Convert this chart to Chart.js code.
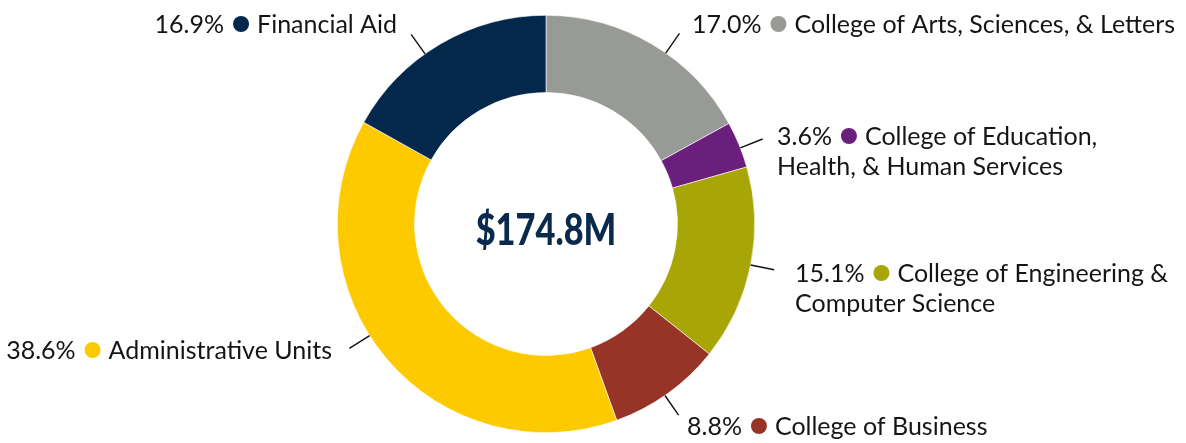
<!DOCTYPE html>
<html>
<head>
<meta charset="utf-8">
<title>Budget allocation</title>
<script src="https://cdn.jsdelivr.net/npm/chart.js@4.4.1/dist/chart.umd.min.js"></script>
<style>
  html, body { margin: 0; padding: 0; background: #ffffff; }
  #wrap { width: 1186px; height: 443px; position: relative; }
</style>
</head>
<body>
<div id="wrap"><canvas id="chart"></canvas></div>
<script>
// Units in clockwise order starting at 12 o'clock
const categories = [
  'College of Arts, Sciences, & Letters',
  'College of Education, Health, & Human Services',
  'College of Engineering & Computer Science',
  'College of Business',
  'Administrative Units',
  'Financial Aid'
];
// Share of the total budget, percent
const shares = [17.0, 3.6, 15.1, 8.8, 38.6, 16.9];
// Text printed in each callout (wrapped lines)
const labelLines = [
  ['College of Arts, Sciences, & Letters'],
  ['College of Education,', 'Health, & Human Services'],
  ['College of Engineering &', 'Computer Science'],
  ['College of Business'],
  ['Administrative Units'],
  ['Financial Aid']
];
const totalLabel = '$174.8M';

const sliceColors = ['#989b95', '#6b1f7c', '#a8a507', '#983427', '#fdca00', '#03284b'];

// Callout placement: text anchor (baseline of first line), alignment,
// and a small angular nudge for where the leader line leaves the ring.
const calloutLayout = [
  { x: 692, y: 33,  align: 'left',  nudge: 4.4 },
  { x: 777, y: 145, align: 'left',  nudge: 0.9 },
  { x: 795, y: 282, align: 'left',  nudge: 0 },
  { x: 687, y: 435, align: 'left',  nudge: 0.9 },
  { x: 332, y: 359, align: 'right', nudge: 8 },
  { x: 397, y: 33,  align: 'right', nudge: -5 }
];

const LABEL_FONT = '25px Lato, "Open Sans", sans-serif';
const TEXT_COLOR = '#151515';

const calloutPlugin = {
  id: 'callouts',
  afterDraw(chart) {
    const ctx = chart.ctx;
    const meta = chart.getDatasetMeta(0);
    ctx.save();

    meta.data.forEach((arc, i) => {
      const lay = calloutLayout[i];
      // leader line leaving the outer edge of the slice
      const mid = (arc.startAngle + arc.endAngle) / 2 + lay.nudge * Math.PI / 180;
      const r0 = arc.outerRadius;
      const r1 = arc.outerRadius + 24;
      ctx.beginPath();
      ctx.moveTo(arc.x + Math.cos(mid) * r0, arc.y + Math.sin(mid) * r0);
      ctx.lineTo(arc.x + Math.cos(mid) * r1, arc.y + Math.sin(mid) * r1);
      ctx.strokeStyle = '#111111';
      ctx.lineWidth = 1.4;
      ctx.stroke();

      // "NN.N%  ●  Name" line, followed by any continuation lines
      ctx.font = LABEL_FONT;
      ctx.fillStyle = TEXT_COLOR;
      ctx.textBaseline = 'alphabetic';
      ctx.textAlign = 'left';
      const pct = shares[i].toFixed(1) + '%';
      const lines = labelLines[i];
      const pctW = ctx.measureText(pct).width;
      const nameW = ctx.measureText(lines[0]).width;
      const dotR = 8, gapA = 9, gapB = 8;
      const firstW = pctW + gapA + dotR * 2 + gapB + nameW;
      const x0 = lay.align === 'right' ? lay.x - firstW : lay.x;

      ctx.fillText(pct, x0, lay.y);
      const dotX = x0 + pctW + gapA + dotR;
      ctx.beginPath();
      ctx.arc(dotX, lay.y - 9, dotR, 0, Math.PI * 2);
      ctx.fillStyle = sliceColors[i];
      ctx.fill();
      ctx.fillStyle = TEXT_COLOR;
      ctx.fillText(lines[0], dotX + dotR + gapB, lay.y);
      for (let k = 1; k < lines.length; k++) {
        ctx.fillText(lines[k], x0, lay.y + 30 * k);
      }
    });

    // total in the hole
    const a = meta.data[0];
    ctx.font = '900 43px Lato, "Open Sans", sans-serif';
    ctx.fillStyle = '#0a2a4d';
    ctx.textAlign = 'center';
    ctx.textBaseline = 'alphabetic';
    ctx.translate(a.x, 0);
    ctx.scale(0.8, 1);
    ctx.fillText(totalLabel, 0, 245);
    ctx.restore();
  }
};

new Chart(document.getElementById('chart'), {
  type: 'doughnut',
  data: {
    labels: categories,
    datasets: [{
      data: shares,
      backgroundColor: sliceColors,
      borderWidth: 0.6,
      borderColor: '#ffffff',
      hoverOffset: 0
    }]
  },
  options: {
    responsive: true,
    maintainAspectRatio: false,
    animation: false,
    cutout: '63%',
    layout: { padding: { left: 0, right: 94, top: 15, bottom: 10 } },
    plugins: {
      legend: { display: false },
      tooltip: { enabled: false }
    }
  },
  plugins: [calloutPlugin]
});
</script>
</body>
</html>
